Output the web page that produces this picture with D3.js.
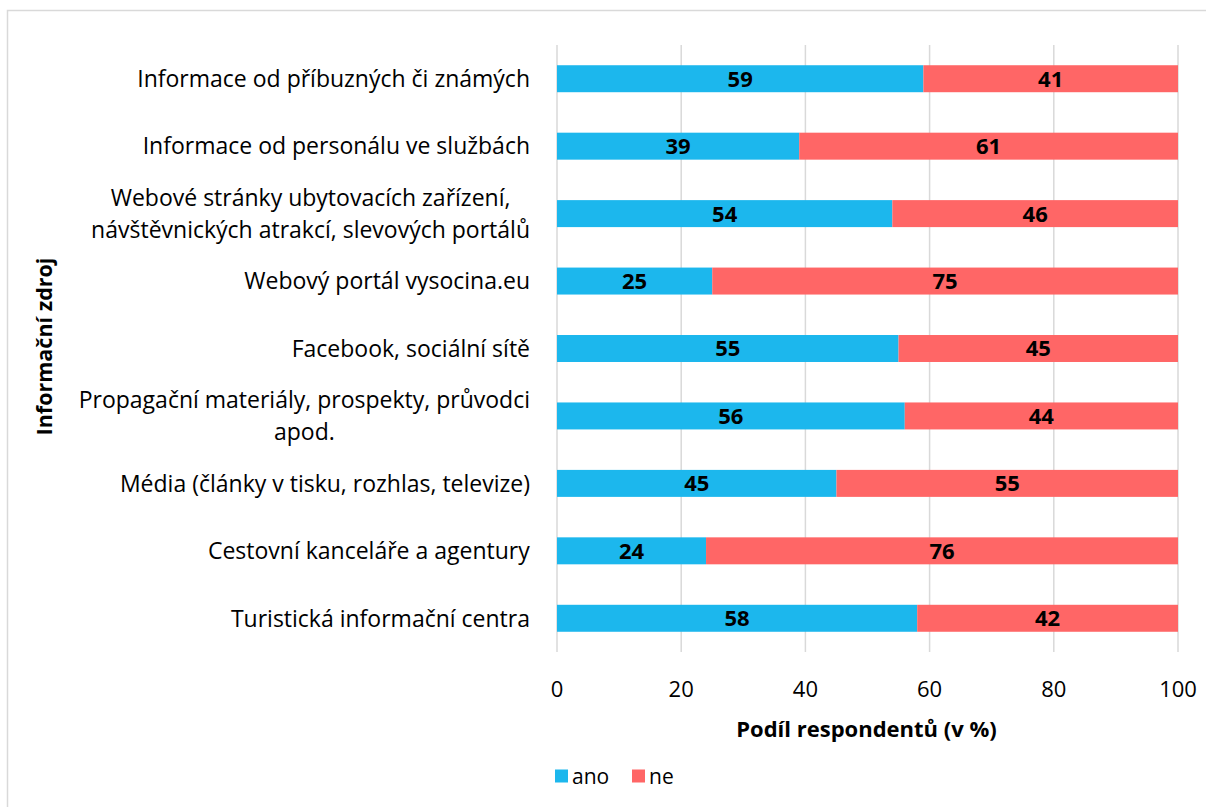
<!DOCTYPE html>
<html>
<head>
<meta charset="utf-8">
<script src="https://cdn.jsdelivr.net/npm/d3@7"></script>
<style>
  body { margin: 0; background: #fff; }
  svg { font-family: "Open Sans", sans-serif; }
</style>
</head>
<body>
<div id="chart"></div>
<script>
const categories = [
  ['Informace od příbuzných či známých'],
  ['Informace od personálu ve službách'],
  ['Webové stránky ubytovacích zařízení,', 'návštěvnických atrakcí, slevových portálů'],
  ['Webový portál vysocina.eu'],
  ['Facebook, sociální sítě'],
  ['Propagační materiály, prospekty, průvodci', 'apod.'],
  ['Média (články v tisku, rozhlas, televize)'],
  ['Cestovní kanceláře a agentury'],
  ['Turistická informační centra'],
];
const ano = [59, 39, 54, 25, 55, 56, 45, 24, 58];
const ne = [41, 61, 46, 75, 45, 44, 55, 76, 42];
const ticks = [0, 20, 40, 60, 80, 100];
const seriesNames = ['ano', 'ne'];
const colors = ['#1cb7ed', '#ff6666'];

const W = 1206, H = 807;
const margin = { top: 45, right: 28, bottom: 155, left: 557 };
const width = W - margin.left - margin.right;
const height = H - margin.top - margin.bottom;

const svg = d3.select('#chart').append('svg')
  .attr('width', W)
  .attr('height', H);

svg.append('rect')
  .attr('x', 7.5).attr('y', 10.5)
  .attr('width', W + 10).attr('height', H + 10)
  .attr('fill', '#fff')
  .attr('stroke', '#d9d9d9')
  .attr('stroke-width', 1.5);

const g = svg.append('g')
  .attr('transform', `translate(${margin.left},${margin.top})`);

const rows = categories.map((c, i) => ({ idx: i, label: c, ano: ano[i], ne: ne[i] }));

const y = d3.scaleBand()
  .domain(rows.map(d => d.idx))
  .range([0, height])
  .paddingInner(0.6)
  .paddingOuter(0.3);

const x = d3.scaleLinear()
  .domain([0, 100])
  .range([0, width]);

// gridlines
g.selectAll('.grid')
  .data(ticks)
  .enter().append('line')
  .attr('class', 'grid')
  .attr('x1', d => x(d)).attr('x2', d => x(d))
  .attr('y1', 0).attr('y2', height)
  .attr('stroke', '#d9d9d9')
  .attr('stroke-width', 1.5);

// stacked bars
const stack = d3.stack().keys(seriesNames);
const layers = stack(rows);

layers.forEach((layer, li) => {
  g.selectAll(`.bar-${li}`)
    .data(layer)
    .enter().append('rect')
    .attr('class', `bar-${li}`)
    .attr('x', d => x(d[0]))
    .attr('y', d => y(d.data.idx))
    .attr('width', d => x(d[1]) - x(d[0]))
    .attr('height', y.bandwidth())
    .attr('fill', colors[li]);

  g.selectAll(`.barlabel-${li}`)
    .data(layer)
    .enter().append('text')
    .attr('class', `barlabel-${li}`)
    .attr('x', d => x((d[0] + d[1]) / 2))
    .attr('y', d => y(d.data.idx) + y.bandwidth() / 2)
    .attr('dy', '0.36em')
    .attr('text-anchor', 'middle')
    .attr('font-size', 22)
    .attr('font-weight', 'bold')
    .attr('fill', '#000')
    .text(d => d.data[seriesNames[li]]);
});

// category labels
const catLabels = g.selectAll('.catlabel')
  .data(rows)
  .enter().append('text')
  .attr('class', 'catlabel')
  .attr('font-size', 23)
  .attr('fill', '#000')
  .attr('text-anchor', 'middle');

catLabels.each(function(d) {
  const t = d3.select(this);
  const n = d.label.length;
  const cy = y(d.idx) + y.bandwidth() / 2;
  d.label.forEach((line, li) => {
    t.append('tspan')
      .attr('x', 0)
      .attr('y', cy + (li - (n - 1) / 2) * 32)
      .attr('dy', '0.36em')
      .text(line);
  });
});

// right-align the label block, centre lines inside it
catLabels.each(function() {
  const t = d3.select(this);
  const bw = this.getBBox().width;
  t.selectAll('tspan').attr('x', -27 - bw / 2);
});

// x tick labels
g.selectAll('.tick-label')
  .data(ticks)
  .enter().append('text')
  .attr('class', 'tick-label')
  .attr('x', d => x(d))
  .attr('y', height + 37)
  .attr('dy', '0.36em')
  .attr('text-anchor', 'middle')
  .attr('font-size', 22)
  .attr('fill', '#000')
  .text(d => d);

// axis titles
g.append('text')
  .attr('x', width / 2 - 1)
  .attr('y', height + 77)
  .attr('dy', '0.36em')
  .attr('text-anchor', 'middle')
  .attr('font-size', 22)
  .attr('font-weight', 'bold')
  .text('Podíl respondentů (v %)');

svg.append('text')
  .attr('transform', `translate(44,${margin.top + height / 2 - 2}) rotate(-90)`)
  .attr('dy', '0.36em')
  .attr('text-anchor', 'middle')
  .attr('font-size', 21.5)
  .attr('font-weight', 'bold')
  .text('Informační zdroj');

// legend
const legend = svg.append('g')
  .attr('transform', `translate(555,776)`);

const legItems = legend.selectAll('.leg')
  .data(seriesNames)
  .enter().append('g')
  .attr('class', 'leg')
  .attr('transform', (d, i) => `translate(${i * 77},0)`);

legItems.append('rect')
  .attr('x', 0).attr('y', -6.5)
  .attr('width', 13).attr('height', 13)
  .attr('fill', (d, i) => colors[i]);

legItems.append('text')
  .attr('x', 17)
  .attr('dy', '0.36em')
  .attr('font-size', 21)
  .text(d => d);
</script>
</body>
</html>
